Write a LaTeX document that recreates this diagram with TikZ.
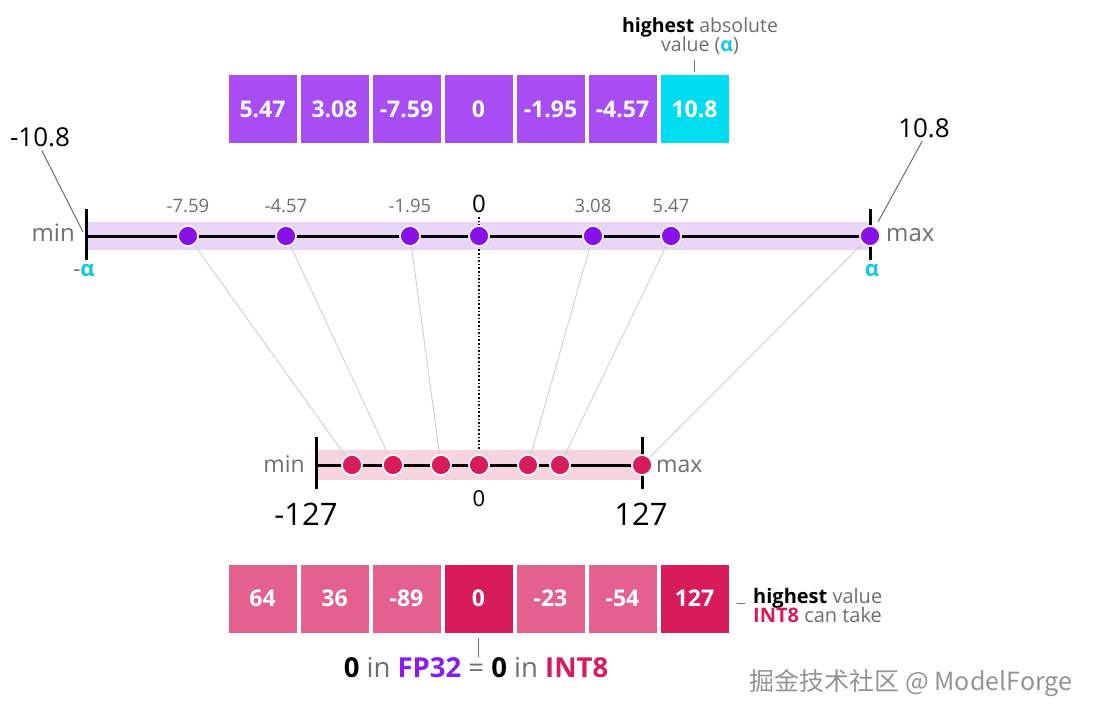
\documentclass[tikz,border=0pt]{standalone}
\usepackage{fontspec}
\setmainfont{Open Sans}
\newfontfamily\cjk{Noto Sans CJK SC}
\definecolor{boxpurple}{HTML}{A84DF4}
\definecolor{dotpurple}{HTML}{8A10E8}
\definecolor{bandpurple}{HTML}{E9D5F8}
\definecolor{cyanbox}{HTML}{00DCF0}
\definecolor{alphacyan}{HTML}{12C8E2}
\definecolor{pinkbox}{HTML}{E4608F}
\definecolor{darkpink}{HTML}{D71B5B}
\definecolor{pinkband}{HTML}{F6D3DF}
\definecolor{txtgray}{HTML}{6E6E6E}
\definecolor{fpcol}{HTML}{8A1BF0}
\definecolor{linkgray}{HTML}{CFCFCF}
\newcommand{\fs}[1]{\fontsize{#1}{#1}\selectfont}
\begin{document}
\begin{tikzpicture}[x=1pt,y=-1pt,
  valbox/.style={minimum width=68pt,minimum height=68pt,inner sep=0pt,text=white,font=\fs{23}\bfseries},
  pdot/.style={circle,fill=dotpurple,draw=white,line width=1.5pt,minimum size=20pt,inner sep=0pt},
  rdot/.style={circle,fill=darkpink,draw=white,line width=1.5pt,minimum size=20pt,inner sep=0pt},
  vlabel/.style={text=txtgray,font=\fs{18.5},inner sep=0pt},
  link/.style={draw=linkgray,line width=0.9pt},
  tickline/.style={line width=3pt,black}]
\useasboundingbox (0,0) rectangle (1094,718);

% ---------- top boxes ----------
\foreach \i/\v in {0/5.47,1/3.08,2/-7.59,3/0,4/-1.95,5/-4.57}
  \node[valbox,fill=boxpurple] (t\i) at (262.5+72*\i,109) {\v};
\node[valbox,fill=cyanbox] (t6) at (694.5,109) {10.8};

\node[align=center,font=\fs{19.5},inner sep=0pt] (hl) at (700,36)
  {\textbf{highest} {\color{txtgray}absolute}\\[-1pt]{\color{txtgray}value (}{\color{alphacyan}\bfseries α}{\color{txtgray})}};
\draw[txtgray,line width=0.9pt,shorten <=6pt,shorten >=3pt] (t6.north |- hl.south) -- (t6.north);

% ---------- top number line ----------
\fill[bandpurple] (88,222) rectangle (870,250);
\draw[line width=3pt] (86,236) -- (870,236);
\draw[tickline] (86,209) -- (86,260);
\draw[tickline] (870,209) -- (870,260);

% dotted zero line
\coordinate (ztop) at (479,217);
\coordinate (zbot) at (479,479);
\draw[dotted,line width=1.6pt] (ztop) -- (zbot);

% top dots
\foreach \n/\x in {a/188,b/286,c/410,d/479,e/593,f/671,g/870}
  \node[pdot] (u\n) at (\x,236) {};

% bottom band and line
\fill[pinkband] (318,450) rectangle (642,480);
\draw[line width=3pt] (316,465) -- (642,465);
\draw[tickline] (316,437) -- (316,489);
\draw[tickline] (642,437) -- (642,489);

% bottom dots
\foreach \n/\x in {a/352,b/393,c/441,d/479,e/528,f/560,g/642}
  \node[rdot] (l\n) at (\x,465) {};

% links
\foreach \n in {a,b,c,e,f,g}
  \draw[link] (u\n) -- (l\n);
\foreach \n/\x in {a/188,b/286,c/410,d/479,e/593,f/671,g/870}
  \node[pdot] at (\x,236) {};
\foreach \n/\x in {a/352,b/393,c/441,d/479,e/528,f/560,g/642}
  \node[rdot] at (\x,465) {};

% value labels above top dots
\foreach \n/\v in {a/-7.59,b/-4.57,c/-1.95,e/3.08,f/5.47}
  \node[vlabel,anchor=base] (v\n) at ([yshift=24pt]u\n.center) {\v};
\node[font=\fs{24},inner sep=0pt,anchor=base] (z0) at (479,212) {0};

\node[font=\fs{24},text=txtgray,anchor=base east,inner sep=0pt] (tmin) at (75,241) {min};
\node[font=\fs{24},text=txtgray,anchor=base west,inner sep=0pt] (tmax) at (886,241) {max};
\node[font=\fs{22},inner sep=0pt] (nalpha) at (84,270) {{\color{txtgray}-}{\color{alphacyan}\bfseries α}};
\node[font=\fs{22},inner sep=0pt] (palpha) at (872,270) {{\color{alphacyan}\bfseries α}};

\node[font=\fs{26},inner sep=0pt] (lm) at (40,137) {-10.8};
\node[font=\fs{26},inner sep=0pt] (rm) at (924,128) {10.8};
\coordinate (lmend) at (83,232);
\coordinate (rmend) at (878,222);
\draw[txtgray,line width=1pt,shorten <=4pt] (lm.south) -- (lmend);
\draw[txtgray,line width=1pt,shorten <=4pt] (rm.south) -- (rmend);

% bottom labels
\node[font=\fs{23},text=txtgray,anchor=base east,inner sep=0pt] (bmin) at (305,472) {min};
\node[font=\fs{23},text=txtgray,anchor=base west,inner sep=0pt] (bmax) at (656,472) {max};
\node[font=\fs{22},inner sep=0pt,anchor=base] (bz) at (479,506) {0};
\node[font=\fs{31},inner sep=0pt] (m127) at (306,514) {-127};
\node[font=\fs{31},inner sep=0pt] (p127) at (641,514) {127};

% ---------- bottom boxes ----------
\foreach \i/\v in {0/64,1/36,2/-89,4/-23,5/-54}
  \node[valbox,fill=pinkbox] (q\i) at (262.5+72*\i,598.5) {\v};
\node[valbox,fill=darkpink] (q3) at (478.5,598.5) {0};
\node[valbox,fill=darkpink] (q6) at (694.5,598.5) {127};

\node[align=left,anchor=west,font=\fs{20},inner sep=0pt] (hv) at (753,605)
  {\textbf{highest} {\color{txtgray}value}\\[-1pt]{\color{darkpink}\bfseries INT8} {\color{txtgray}can take}};
\draw[txtgray,line width=1pt,shorten <=8pt,shorten >=8pt] (q6.east |- 745,603) -- (hv.west |- 745,603);

\node[font=\fs{27.5},inner sep=0pt] (eq) at (476,668)
  {\textbf{0} {\color{txtgray}in} {\color{fpcol}\bfseries FP32} {\color{txtgray}=} \textbf{0} {\color{txtgray}in} {\color{darkpink}\bfseries INT8}};
\draw[txtgray,line width=0.9pt,shorten <=5pt,shorten >=1pt] (q3.south) -- (q3.south |- eq.north);

% watermark
\node[font=\fs{25}\cjk,text=gray!85,inner sep=0pt] (wm) at (911,683) {掘金技术社区 @ ModelForge};
\end{tikzpicture}
\end{document}
